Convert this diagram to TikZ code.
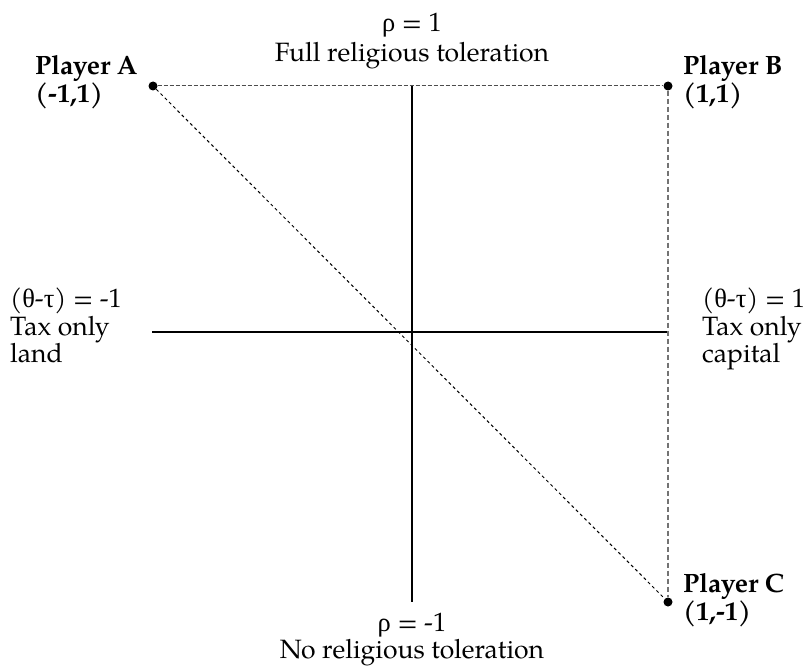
\documentclass[tikz,border=0pt]{standalone}
\usepackage{fontspec}
\setmainfont{TeX Gyre Pagella}
\newfontfamily\grk{Liberation Serif}
\tikzset{
  lbl/.style={inner sep=0pt, font=\fontsize{26.5}{30}\selectfont},
  plbl/.style={inner sep=0pt, font=\fontsize{26.5}{30}\selectfont\bfseries},
  axis/.style={line width=2pt, black},
  dot/.style={circle, fill=black, inner sep=0pt, minimum size=9pt},
  dashtop/.style={line width=1pt, black!70, dash pattern=on 4pt off 2pt},
  dashright/.style={line width=1.6pt, black!55, dash pattern=on 5pt off 3pt},
  dashdiag/.style={line width=1pt, black, dash pattern=on 3pt off 3pt}
}
\begin{document}
\begin{tikzpicture}[x=1pt,y=-1pt]
\useasboundingbox (0,0) rectangle (808,666);
% axes
\coordinate (hl) at (152,332);
\coordinate (hr) at (668,332);
\coordinate (vt) at (412,86);
\coordinate (vb) at (412,602);
\draw[axis] (hl) -- (hr);
\draw[axis] (vt) -- (vb);
% players
\node[dot] (A) at (153,86) {};
\node[dot] (B) at (668,86) {};
\node[dot] (C) at (668,602) {};
\draw[dashtop] (A) -- (B);
\draw[dashright] (B) -- (C);
\draw[dashdiag] (A) -- (C);
% player labels
\node[plbl, anchor=base west] (pa1) at (35,75) {Player A};
\node[plbl, anchor=base west] (pa2) at (35,103) {(-1,1)};
\node[plbl, anchor=base west] (pb1) at (683,75) {Player B};
\node[plbl, anchor=base west] (pb2) at (683,103) {(1,1)};
\node[plbl, anchor=base west] (pc1) at (683,592) {Player C};
\node[plbl, anchor=base west] (pc2) at (683,620) {(1,-1)};
% top / bottom labels
\node[lbl, anchor=base] (t1) at (412,32) {{\grk ρ} = 1};
\node[lbl, anchor=base] (t2) at (412,62) {Full religious toleration};
\node[lbl, anchor=base] (b1) at (412,631) {{\grk ρ} = -1};
\node[lbl, anchor=base] (b2) at (412,658) {No religious toleration};
% left / right labels
\node[lbl, anchor=base west] (l1) at (10,307) {({\grk θ}-{\grk τ}) = -1};
\node[lbl, anchor=base west] (l2) at (10,335) {Tax only};
\node[lbl, anchor=base west] (l3) at (10,362) {land};
\node[lbl, anchor=base west] (r1) at (702,307) {({\grk θ}-{\grk τ}) = 1};
\node[lbl, anchor=base west] (r2) at (702,335) {Tax only};
\node[lbl, anchor=base west] (r3) at (702,362) {capital};
\end{tikzpicture}
\end{document}
